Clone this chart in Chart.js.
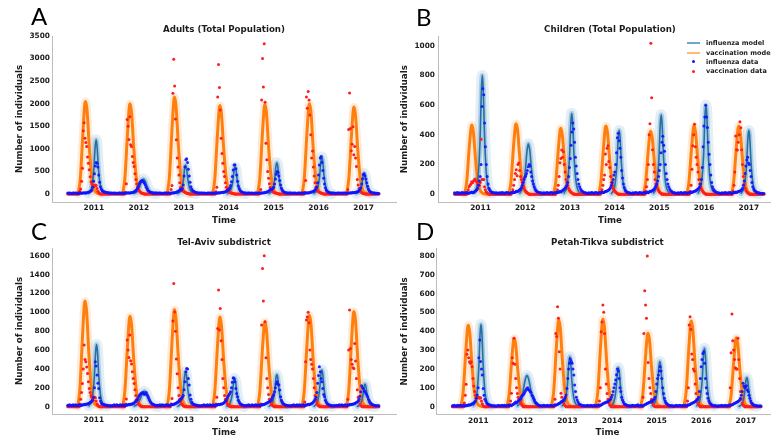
<!DOCTYPE html>
<html><head><meta charset="utf-8">
<script src="https://cdn.jsdelivr.net/npm/chart.js@4.4.1/dist/chart.umd.min.js"></script>
<style>
html,body{margin:0;padding:0;background:#fff}
body{width:771px;height:438px;overflow:hidden;position:relative}
canvas{position:absolute}
.letter{position:absolute;font-family:Lato,'Open Sans',sans-serif;font-size:24px;line-height:24px;color:#000}
.lg{position:absolute;font:bold 6.5px 'DejaVu Sans';color:#222;white-space:nowrap;line-height:8px}
.lgl{position:absolute;height:2px;width:13px}
.lgd{position:absolute;width:3px;height:3px;border-radius:50%}
</style></head><body>
<canvas id="cA" width="400" height="226" style="left:0;top:0"></canvas>
<canvas id="cB" width="400" height="226" style="left:385px;top:0"></canvas>
<canvas id="cC" width="400" height="218" style="left:0;top:220px"></canvas>
<canvas id="cD" width="400" height="218" style="left:385px;top:220px"></canvas>
<div class="letter" style="left:31px;top:4px">A</div>
<div class="letter" style="left:416px;top:5px">B</div>
<div class="letter" style="left:31px;top:219px">C</div>
<div class="letter" style="left:416px;top:219px">D</div>
<div class="lgl" style="left:687px;top:42.3px;background:rgba(31,119,180,0.65)"></div>
<div class="lg" style="left:706px;top:39.3px">influenza model</div>
<div class="lgl" style="left:687px;top:51.5px;background:rgba(255,127,14,0.55)"></div>
<div class="lg" style="left:706px;top:48.5px">vaccination model</div>
<div class="lgd" style="left:692px;top:60.3px;background:#1414ff"></div>
<div class="lg" style="left:706px;top:57.8px">influenza data</div>
<div class="lgd" style="left:692px;top:69.5px;background:#ff1e1e"></div>
<div class="lg" style="left:706px;top:67px">vaccination data</div>
<script>
// ---------- shared axis values ----------
const T0 = 2010.42;              // first weekly observation (decimal year)
const WEEK = 7 / 365.25;
const yearTicks = [2011, 2012, 2013, 2014, 2015, 2016, 2017];
const yTicksA = [0, 500, 1000, 1500, 2000, 2500, 3000, 3500];
const yTicksB = [0, 200, 400, 600, 800, 1000];
const yTicksC = [0, 200, 400, 600, 800, 1000, 1200, 1400, 1600];
const yTicksD = [0, 100, 200, 300, 400, 500, 600, 700, 800];
const titles = ['Adults (Total Population)', 'Children (Total Population)', 'Tel-Aviv subdistrict', 'Petah-Tikva subdistrict'];

// ---------- Panel A : model curves [year, value] per season ----------
const vacModelA = [
 [[2010.65,0],[2010.70,350],[2010.76,1400],[2010.80,2000],[2010.82,2050],[2010.85,1850],[2010.90,1020],[2010.95,410],[2011.00,120],[2011.06,30],[2011.15,0]],
 [[2011.64,0],[2011.69,340],[2011.75,1360],[2011.79,1940],[2011.81,2000],[2011.84,1800],[2011.89,1000],[2011.94,400],[2011.99,120],[2012.05,30],[2012.14,0]],
 [[2012.63,0],[2012.68,370],[2012.74,1460],[2012.78,2080],[2012.80,2150],[2012.83,1930],[2012.88,1080],[2012.93,430],[2012.98,130],[2013.04,30],[2013.13,0]],
 [[2013.64,0],[2013.69,330],[2013.75,1330],[2013.79,1900],[2013.81,1960],[2013.84,1760],[2013.89,980],[2013.94,390],[2013.99,120],[2014.05,30],[2014.14,0]],
 [[2014.64,0],[2014.69,340],[2014.75,1350],[2014.79,1920],[2014.81,1980],[2014.84,1780],[2014.89,990],[2014.94,400],[2014.99,120],[2015.05,30],[2015.14,0]],
 [[2015.63,0],[2015.68,340],[2015.74,1360],[2015.78,1940],[2015.80,2000],[2015.83,1800],[2015.88,1000],[2015.93,400],[2015.98,120],[2016.04,30],[2016.13,0]],
 [[2016.62,0],[2016.67,330],[2016.73,1310],[2016.77,1870],[2016.79,1930],[2016.82,1740],[2016.87,970],[2016.92,390],[2016.97,115],[2017.03,30],[2017.12,0]]
];
const fluModelA = [
 [[2010.88,20],[2010.95,140],[2011.00,540],[2011.03,1050],[2011.05,1200],[2011.07,1080],[2011.10,600],[2011.14,220],[2011.19,60],[2011.27,15]],
 [[2011.90,20],[2011.97,60],[2012.02,160],[2012.06,280],[2012.10,330],[2012.14,290],[2012.18,180],[2012.23,70],[2012.30,20],[2012.38,5]],
 [[2012.87,15],[2012.94,80],[2012.99,290],[2013.02,560],[2013.04,640],[2013.06,580],[2013.09,330],[2013.13,120],[2013.18,35],[2013.26,10]],
 [[2013.97,15],[2014.04,75],[2014.09,270],[2014.12,530],[2014.14,600],[2014.16,540],[2014.19,300],[2014.23,110],[2014.28,30],[2014.36,8]],
 [[2014.90,15],[2014.97,85],[2015.02,310],[2015.05,610],[2015.07,690],[2015.09,620],[2015.12,350],[2015.16,125],[2015.21,35],[2015.29,8]],
 [[2015.90,15],[2015.97,100],[2016.02,370],[2016.05,720],[2016.07,820],[2016.09,740],[2016.12,410],[2016.16,150],[2016.21,40],[2016.29,10]],
 [[2016.84,15],[2016.91,55],[2016.96,210],[2016.99,400],[2017.01,460],[2017.03,410],[2017.06,230],[2017.10,85],[2017.15,25],[2017.23,5]]
];
// ---------- Panel A : weekly data, one row per season (June -> June) ----------
const fluDataA = [
 [20,15,25,20,10,15,20,25,15,20,20,15,10,20,25,20,15,20,25,30,25,20,30,35,40,45,55,70,90,150,280,450,620,700,680,600,420,260,160,110,80,60,50,45,40,35,30,30,25,25,20,20],
 [15,20,25,15,20,10,15,20,25,20,15,20,15,25,20,15,20,25,30,20,25,30,30,35,40,50,60,80,100,130,170,220,260,280,300,290,270,240,200,150,110,80,60,50,40,35,30,25,25,20,20,20],
 [20,15,20,25,15,20,10,15,20,25,20,15,20,25,20,15,20,25,30,25,30,35,40,50,60,70,90,110,90,120,200,400,600,760,780,700,550,400,260,160,110,80,60,50,40,35,30,25,25,20,20,20],
 [20,25,15,20,15,10,20,25,20,15,20,25,15,20,25,20,15,20,25,30,25,30,35,35,40,40,45,50,60,70,90,110,140,190,270,390,530,640,650,560,420,280,180,120,80,60,45,35,30,25,20,20],
 [15,20,25,20,15,20,25,15,10,20,25,20,15,20,25,20,15,25,30,25,30,35,40,45,50,60,80,100,110,100,120,150,220,330,440,500,480,400,300,200,130,90,60,45,35,30,25,25,20,20,20,20],
 [20,15,20,25,20,15,10,20,25,20,15,20,25,20,15,20,25,20,30,25,30,35,40,45,50,60,70,90,120,160,250,420,640,800,830,700,520,350,220,140,90,60,45,35,30,25,25,20,20,20,15,15],
 [15,20,25,20,15,20,25,15,20,25,20,15,20,25,20,25,30,25,30,35,30,35,40,45,50,60,80,100,140,220,340,430,450,400,330,250,170,110,70,50,40,30,25,20,20,15,15,15,10,10]
];
const vacDataA = [
 [0,0,0,0,0,0,0,0,0,0,0,0,0,0,60,110,280,570,1400,1580,1235,1140,1050,820,680,540,380,270,220,190,190,170,200,190,120,60,30,10,0,0,0,0,0,0,0,0,0,0,0,0,0,0],
 [0,0,0,0,0,0,0,0,0,0,0,0,0,0,0,40,230,1650,1500,1210,1710,1090,1050,830,700,610,450,320,220,150,100,70,50,30,20,10,5,0,0,0,0,0,0,0,0,0,0,0,0,0,0,0],
 [0,0,0,0,0,0,0,0,0,0,0,0,0,0,0,0,100,190,2230,2985,2390,1660,1200,800,600,420,250,150,100,80,60,50,40,30,20,15,10,5,0,0,0,0,0,0,0,0,0,0,0,0,0,0],
 [0,0,0,0,0,0,0,0,0,0,0,0,0,0,0,0,50,150,2150,2870,2360,1860,1235,900,680,500,390,250,150,100,70,50,40,30,20,15,10,5,0,0,0,0,0,0,0,0,0,0,0,0,0,0],
 [0,0,0,0,0,0,0,0,0,0,0,0,0,0,0,30,100,2080,3000,2370,3330,2030,1125,760,500,350,230,150,100,70,50,40,30,20,15,10,5,0,0,0,0,0,0,0,0,0,0,0,0,0,0,0],
 [0,0,0,0,0,0,0,0,0,0,0,0,0,0,0,40,300,2150,1900,2270,2080,1750,1310,800,950,600,400,250,150,100,70,50,40,30,20,10,5,0,0,0,0,0,0,0,0,0,0,0,0,0,0,0],
 [0,0,0,0,0,0,0,0,0,0,0,0,0,100,1430,2240,1450,960,1100,1490,870,1050,800,610,320,200,120,80,50,30,20,10,5,0,0,0,0,0,0,0,0,0,0,0,0,0,0,0,0,0]
];

// ---------- Panel B ----------
const vacModelB = [
 [[2010.64,0],[2010.69,80],[2010.75,320],[2010.79,450],[2010.81,466],[2010.84,420],[2010.89,235],[2010.94,95],[2010.99,28],[2011.05,7],[2011.14,0]],
 [[2011.63,0],[2011.68,80],[2011.74,325],[2011.78,460],[2011.80,475],[2011.83,430],[2011.88,240],[2011.93,95],[2011.98,28],[2012.04,7],[2012.13,0]],
 [[2012.63,0],[2012.68,75],[2012.74,300],[2012.78,430],[2012.80,444],[2012.83,400],[2012.88,222],[2012.93,89],[2012.98,27],[2013.04,7],[2013.13,0]],
 [[2013.64,0],[2013.69,78],[2013.75,313],[2013.79,446],[2013.81,460],[2013.84,414],[2013.89,230],[2013.94,92],[2013.99,28],[2014.05,7],[2014.14,0]],
 [[2014.64,0],[2014.69,72],[2014.75,290],[2014.79,412],[2014.81,425],[2014.84,382],[2014.89,212],[2014.94,85],[2014.99,26],[2015.05,6],[2015.14,0]],
 [[2015.61,0],[2015.66,78],[2015.72,313],[2015.76,446],[2015.78,460],[2015.81,414],[2015.86,230],[2015.91,92],[2015.96,28],[2016.02,7],[2016.11,0]],
 [[2016.61,0],[2016.66,78],[2016.72,313],[2016.76,446],[2016.78,460],[2016.81,414],[2016.86,230],[2016.91,92],[2016.96,28],[2017.02,7],[2017.11,0]]
];
const fluModelB = [
 [[2010.87,12],[2010.94,95],[2010.99,360],[2011.02,700],[2011.04,800],[2011.06,720],[2011.09,400],[2011.13,145],[2011.18,40],[2011.26,8]],
 [[2011.88,8],[2011.95,50],[2012.00,150],[2012.04,290],[2012.07,340],[2012.10,300],[2012.14,170],[2012.19,60],[2012.25,15],[2012.33,4]],
 [[2012.87,8],[2012.94,65],[2012.99,245],[2013.02,480],[2013.04,545],[2013.06,490],[2013.09,270],[2013.13,100],[2013.18,27],[2013.26,5]],
 [[2013.93,6],[2014.00,52],[2014.05,195],[2014.08,380],[2014.10,430],[2014.12,387],[2014.15,215],[2014.19,77],[2014.24,21],[2014.32,4]],
 [[2014.87,8],[2014.94,64],[2014.99,240],[2015.02,470],[2015.04,535],[2015.06,480],[2015.09,268],[2015.13,96],[2015.18,27],[2015.26,5]],
 [[2015.87,9],[2015.94,72],[2015.99,270],[2016.02,528],[2016.04,600],[2016.06,540],[2016.09,300],[2016.13,108],[2016.18,30],[2016.26,6]],
 [[2016.83,6],[2016.90,52],[2016.95,195],[2016.98,380],[2017.00,430],[2017.02,387],[2017.05,215],[2017.09,77],[2017.14,21],[2017.22,4]]
];
const fluDataB = [
 [10,5,8,12,5,10,8,5,10,12,8,5,10,8,12,10,5,8,10,12,15,10,12,15,20,25,30,40,60,90,120,200,590,710,670,480,320,200,120,70,40,30,20,15,12,10,10,8,8,10,5,8],
 [8,10,5,12,8,10,5,8,10,12,8,10,5,8,10,12,15,10,12,15,20,18,20,25,30,35,45,60,80,100,115,125,140,160,185,200,190,150,120,90,70,50,35,25,20,15,12,10,10,8,8,5],
 [10,8,5,10,12,8,5,10,8,12,10,5,8,10,12,10,15,12,15,20,15,20,25,30,35,40,50,60,80,120,180,240,330,420,480,440,350,250,190,140,100,70,50,35,25,20,15,12,10,8,8,5],
 [8,10,5,8,12,10,5,8,10,12,8,5,10,8,12,10,15,10,12,15,18,20,22,25,30,35,45,60,80,100,130,150,200,280,380,410,360,310,250,160,110,70,45,30,20,15,12,10,8,8,5,5],
 [10,5,8,12,10,8,5,10,12,8,10,5,8,12,10,8,12,15,10,15,18,20,22,25,30,35,45,55,70,90,120,160,200,280,350,390,330,290,200,140,100,70,50,35,25,20,15,12,10,8,8,5],
 [8,10,5,8,12,10,5,8,10,12,8,5,10,8,12,10,15,12,15,18,20,22,25,30,35,40,50,70,100,180,320,460,520,600,520,450,350,270,200,130,80,50,35,25,20,15,12,10,8,8,5,5],
 [10,8,5,10,12,8,5,10,8,12,10,5,8,10,12,10,15,12,15,18,20,22,25,30,40,60,90,140,190,230,250,210,200,160,120,80,50,35,25,20,15,12,10,8,8,5,5,5,5,5]
];
const vacDataB = [
 [0,0,0,0,0,0,0,0,0,0,0,0,0,0,0,10,30,50,60,70,85,78,90,96,103,90,85,70,65,60,80,370,100,100,100,50,30,15,10,5,0,0,0,0,0,0,0,0,0,0,0,0],
 [0,0,0,0,0,0,0,0,0,0,0,0,0,0,0,10,30,60,100,140,165,125,200,210,160,120,100,80,60,45,30,20,15,10,5,0,0,0,0,0,0,0,0,0,0,0,0,0,0,0,0,0],
 [0,0,0,0,0,0,0,0,0,0,0,0,0,0,0,10,30,60,120,213,240,298,250,287,200,150,100,80,60,40,30,20,15,10,5,0,0,0,0,0,0,0,0,0,0,0,0,0,0,0,0,0],
 [0,0,0,0,0,0,0,0,0,0,0,0,0,0,0,10,30,60,100,130,271,200,309,327,220,180,120,80,60,40,30,20,15,10,5,0,0,0,0,0,0,0,0,0,0,0,0,0,0,0,0,0],
 [0,0,0,0,0,0,0,0,0,0,0,0,0,0,0,20,50,100,200,400,474,1016,650,300,200,150,100,70,50,35,25,15,10,5,0,0,0,0,0,0,0,0,0,0,0,0,0,0,0,0,0,0],
 [0,0,0,0,0,0,0,0,0,0,0,0,0,0,0,20,60,168,327,400,471,320,250,200,150,100,70,50,35,25,15,10,5,0,0,0,0,0,0,0,0,0,0,0,0,0,0,0,0,0,0,0],
 [0,0,0,0,0,0,0,0,0,0,0,0,0,20,60,150,392,300,298,350,400,489,448,300,200,120,70,40,25,15,10,5,0,0,0,0,0,0,0,0,0,0,0,0,0,0,0,0,0,0]
];

// ---------- Panel C ----------
const vacModelC = [
 [[2010.64,0],[2010.69,190],[2010.75,760],[2010.79,1085],[2010.81,1120],[2010.84,1010],[2010.89,560],[2010.94,225],[2010.99,67],[2011.05,17],[2011.14,0]],
 [[2011.64,0],[2011.69,165],[2011.75,650],[2011.79,930],[2011.81,960],[2011.84,865],[2011.89,480],[2011.94,190],[2011.99,58],[2012.05,15],[2012.14,0]],
 [[2012.63,0],[2012.68,175],[2012.74,700],[2012.78,1000],[2012.80,1030],[2012.83,925],[2012.88,515],[2012.93,205],[2012.98,62],[2013.04,15],[2013.13,0]],
 [[2013.64,0],[2013.69,160],[2013.75,645],[2013.79,920],[2013.81,950],[2013.84,855],[2013.89,475],[2013.94,190],[2013.99,57],[2014.05,14],[2014.14,0]],
 [[2014.64,0],[2014.69,153],[2014.75,612],[2014.79,873],[2014.81,900],[2014.84,810],[2014.89,450],[2014.94,180],[2014.99,54],[2015.05,13],[2015.14,0]],
 [[2015.63,0],[2015.68,165],[2015.74,660],[2015.78,940],[2015.80,970],[2015.83,873],[2015.88,485],[2015.93,194],[2015.98,58],[2016.04,15],[2016.13,0]],
 [[2016.62,0],[2016.67,172],[2016.73,687],[2016.77,980],[2016.79,1010],[2016.82,909],[2016.87,505],[2016.92,202],[2016.97,60],[2017.03,15],[2017.12,0]]
];
const fluModelC = [
 [[2010.89,10],[2010.96,80],[2011.01,300],[2011.04,580],[2011.06,660],[2011.08,595],[2011.11,330],[2011.15,120],[2011.20,33],[2011.28,7]],
 [[2011.90,8],[2011.97,30],[2012.03,80],[2012.08,140],[2012.12,165],[2012.16,145],[2012.21,90],[2012.27,35],[2012.34,10],[2012.42,3]],
 [[2012.87,6],[2012.94,44],[2012.99,167],[2013.02,325],[2013.04,370],[2013.06,333],[2013.09,185],[2013.13,67],[2013.18,18],[2013.26,4]],
 [[2013.96,5],[2014.03,36],[2014.08,135],[2014.11,264],[2014.13,300],[2014.15,270],[2014.18,150],[2014.22,54],[2014.27,15],[2014.35,3]],
 [[2014.90,5],[2014.97,41],[2015.02,153],[2015.05,300],[2015.07,340],[2015.09,306],[2015.12,170],[2015.16,61],[2015.21,17],[2015.29,3]],
 [[2015.90,6],[2015.97,47],[2016.02,175],[2016.05,343],[2016.07,390],[2016.09,351],[2016.12,195],[2016.16,70],[2016.21,20],[2016.29,4]],
 [[2016.86,4],[2016.93,29],[2016.98,108],[2017.01,211],[2017.03,240],[2017.05,216],[2017.08,120],[2017.12,43],[2017.17,12],[2017.25,2]]
];
const fluDataC = [
 [15,10,20,15,10,15,20,10,15,20,15,10,15,20,15,10,20,15,20,25,20,25,30,30,35,40,45,50,60,70,100,200,477,431,335,250,194,95,60,40,30,25,20,20,15,15,15,10,10,10,10,10],
 [10,15,20,10,15,20,15,10,15,20,15,10,20,15,10,15,20,15,20,25,20,25,30,30,35,40,50,60,70,80,100,120,130,140,145,150,140,130,140,150,130,110,90,70,50,40,30,25,20,15,15,10],
 [15,10,15,20,10,15,20,15,10,15,20,15,20,15,10,15,20,25,20,25,30,35,40,45,50,60,70,80,90,100,120,180,265,370,406,400,300,230,124,80,50,35,25,20,20,15,15,10,10,10,10,10],
 [10,15,20,15,10,15,20,10,15,20,15,10,15,20,15,10,20,15,20,25,20,25,30,30,35,40,50,60,70,90,110,125,140,160,200,260,307,300,265,194,140,106,70,50,35,25,20,15,15,10,10,10],
 [15,10,20,15,10,15,20,15,10,15,20,15,10,20,15,10,20,15,25,20,25,30,35,40,45,50,55,60,70,90,110,130,160,200,240,265,240,230,177,106,70,50,35,25,20,15,15,10,10,10,10,10],
 [10,15,20,15,10,15,20,10,15,20,15,10,15,20,15,10,20,15,20,25,20,25,30,35,40,50,60,80,100,150,250,330,424,371,300,265,194,130,106,70,50,35,25,20,15,15,10,10,10,10,10,10],
 [15,10,15,20,10,15,20,15,10,15,20,15,10,20,15,20,25,20,25,30,30,35,40,45,50,60,80,110,159,222,200,194,170,159,140,124,106,80,60,45,35,25,20,15,15,10,10,10,10,10]
];
const vacDataC = [
 [0,0,0,0,0,0,0,0,0,0,0,0,0,0,30,80,150,247,400,653,501,477,420,353,265,194,150,120,100,90,100,100,95,60,30,15,5,0,0,0,0,0,0,0,0,0,0,0,0,0,0,0],
 [0,0,0,0,0,0,0,0,0,0,0,0,0,0,0,30,81,706,600,523,760,487,452,370,300,247,180,120,80,50,30,20,10,5,0,0,0,0,0,0,0,0,0,0,0,0,0,0,0,0,0,0],
 [0,0,0,0,0,0,0,0,0,0,0,0,0,0,0,0,30,88,908,1307,1003,800,505,350,201,120,80,50,30,20,10,5,0,0,0,0,0,0,0,0,0,0,0,0,0,0,0,0,0,0,0,0],
 [0,0,0,0,0,0,0,0,0,0,0,0,0,0,0,0,30,100,830,1236,812,1042,700,500,300,200,120,80,50,30,20,10,5,0,0,0,0,0,0,0,0,0,0,0,0,0,0,0,0,0,0,0],
 [0,0,0,0,0,0,0,0,0,0,0,0,0,0,0,0,30,865,1466,1120,1600,900,519,300,200,130,80,50,30,20,10,5,0,0,0,0,0,0,0,0,0,0,0,0,0,0,0,0,0,0,0,0],
 [0,0,0,0,0,0,0,0,0,0,0,0,0,0,0,50,477,918,950,1000,890,600,500,450,400,300,200,120,70,40,20,10,5,0,0,0,0,0,0,0,0,0,0,0,0,0,0,0,0,0,0,0],
 [0,0,0,0,0,0,0,0,0,0,0,0,0,80,600,1024,618,500,450,413,406,671,484,300,180,100,60,30,15,5,0,0,0,0,0,0,0,0,0,0,0,0,0,0,0,0,0,0,0,0]
];

// ---------- Panel D ----------
const vacModelD = [
 [[2010.61,0],[2010.66,74],[2010.72,294],[2010.76,420],[2010.78,433],[2010.81,390],[2010.86,217],[2010.91,87],[2010.96,26],[2011.02,6],[2011.11,0]],
 [[2011.64,0],[2011.69,62],[2011.75,247],[2011.79,352],[2011.81,363],[2011.84,327],[2011.89,182],[2011.94,73],[2011.99,22],[2012.05,5],[2012.14,0]],
 [[2012.64,0],[2012.69,78],[2012.75,313],[2012.79,446],[2012.81,460],[2012.84,414],[2012.89,230],[2012.94,92],[2012.99,28],[2013.05,7],[2013.14,0]],
 [[2013.63,0],[2013.68,79],[2013.74,316],[2013.78,451],[2013.80,465],[2013.83,419],[2013.88,233],[2013.93,93],[2013.98,28],[2014.04,7],[2014.13,0]],
 [[2014.64,0],[2014.69,66],[2014.75,265],[2014.79,378],[2014.81,390],[2014.84,351],[2014.89,195],[2014.94,78],[2014.99,23],[2015.05,6],[2015.14,0]],
 [[2015.61,0],[2015.66,77],[2015.72,309],[2015.76,441],[2015.78,455],[2015.81,410],[2015.86,228],[2015.91,91],[2015.96,27],[2016.02,7],[2016.11,0]],
 [[2016.62,0],[2016.67,62],[2016.73,249],[2016.77,355],[2016.79,366],[2016.82,329],[2016.87,183],[2016.92,73],[2016.97,22],[2017.03,5],[2017.12,0]]
];
const fluModelD = [
 [[2010.89,7],[2010.96,52],[2011.01,197],[2011.04,385],[2011.06,437],[2011.08,393],[2011.11,219],[2011.15,79],[2011.20,22],[2011.28,4]],
 [[2011.88,5],[2011.95,25],[2012.00,75],[2012.05,140],[2012.09,165],[2012.13,145],[2012.18,85],[2012.24,30],[2012.31,8],[2012.39,2]],
 [[2012.88,4],[2012.95,32],[2013.00,119],[2013.03,233],[2013.05,265],[2013.07,239],[2013.10,133],[2013.14,48],[2013.19,13],[2013.27,3]],
 [[2013.97,3],[2014.04,25],[2014.09,93],[2014.12,182],[2014.14,207],[2014.16,186],[2014.19,104],[2014.23,37],[2014.28,10],[2014.36,2]],
 [[2014.90,4],[2014.97,29],[2015.02,108],[2015.05,211],[2015.07,240],[2015.09,216],[2015.12,120],[2015.16,43],[2015.21,12],[2015.29,2]],
 [[2015.90,5],[2015.97,37],[2016.02,140],[2016.05,273],[2016.07,310],[2016.09,279],[2016.12,155],[2016.16,56],[2016.21,16],[2016.29,3]],
 [[2016.85,2],[2016.92,18],[2016.97,69],[2017.00,136],[2017.02,154],[2017.04,139],[2017.07,77],[2017.11,28],[2017.16,8],[2017.24,2]]
];
const fluDataD = [
 [5,3,8,5,2,5,8,3,5,8,5,3,5,8,5,3,8,5,8,10,8,10,12,15,18,20,25,30,45,62,100,260,354,240,200,168,97,60,40,30,20,15,12,10,8,8,5,5,5,5,3,3],
 [3,5,8,5,3,5,8,5,3,8,5,3,5,8,5,10,8,5,10,12,15,20,25,20,25,30,35,40,45,55,60,65,71,80,88,95,100,90,88,80,75,62,55,45,35,25,20,15,10,8,5,5],
 [5,3,5,8,5,3,5,8,5,3,5,8,5,3,5,8,10,8,10,12,15,18,20,25,28,30,35,40,50,62,97,150,200,230,253,240,230,200,168,115,80,50,35,25,15,12,10,8,5,5,5,5],
 [3,5,8,5,3,5,8,5,3,5,8,5,3,8,5,10,8,5,10,12,15,18,20,22,25,25,28,30,35,40,50,62,80,101,120,142,170,200,189,150,101,80,50,35,25,15,12,10,8,5,5,3],
 [5,3,5,8,5,3,5,8,5,10,5,3,5,8,5,3,8,10,12,15,18,20,22,25,25,30,28,35,40,50,80,120,150,168,190,212,189,150,100,70,45,30,20,15,10,8,5,5,5,5,3,3],
 [3,5,8,5,3,5,8,5,3,5,8,5,3,8,5,10,8,10,12,15,18,20,22,25,28,30,35,40,50,80,150,212,250,283,292,230,150,100,70,45,30,20,15,10,8,5,5,5,5,3,3,3],
 [5,3,5,8,5,3,5,8,5,3,5,8,5,10,8,10,12,15,18,20,22,25,28,30,35,45,60,80,124,110,101,105,111,90,80,60,45,30,20,15,10,8,5,5,5,3,3,3,3,3]
];
const vacDataD = [
 [0,0,0,0,0,0,0,0,0,0,0,0,0,0,20,60,119,278,301,260,239,230,239,212,150,110,80,60,50,48,48,50,45,48,30,15,5,0,0,0,0,0,0,0,0,0,0,0,0,0,0,0],
 [0,0,0,0,0,0,0,0,0,0,0,0,0,0,0,10,30,71,260,230,363,225,150,100,70,50,40,30,20,10,5,0,0,0,0,0,0,0,0,0,0,0,0,0,0,0,0,0,0,0,0,0],
 [0,0,0,0,0,0,0,0,0,0,0,0,0,0,0,0,39,389,372,531,469,292,200,71,50,30,20,10,5,0,0,0,0,0,0,0,0,0,0,0,0,0,0,0,0,0,0,0,0,0,0,0],
 [0,0,0,0,0,0,0,0,0,0,0,0,0,0,0,0,30,100,398,450,540,501,389,200,120,70,40,20,10,5,0,0,0,0,0,0,0,0,0,0,0,0,0,0,0,0,0,0,0,0,0,0],
 [0,0,0,0,0,0,0,0,0,0,0,0,0,0,0,50,389,616,540,469,800,234,150,100,70,40,20,10,5,0,0,0,0,0,0,0,0,0,0,0,0,0,0,0,0,0,0,0,0,0,0,0],
 [0,0,0,0,0,0,0,0,0,0,0,0,0,0,0,30,100,434,478,411,280,250,200,190,120,70,40,20,10,5,0,0,0,0,0,0,0,0,0,0,0,0,0,0,0,0,0,0,0,0,0,0],
 [0,0,0,0,0,0,0,0,0,0,0,0,0,100,287,492,350,301,250,207,200,200,363,250,150,80,40,20,10,5,0,0,0,0,0,0,0,0,0,0,0,0,0,0,0,0,0,0,0,0]
];

// ---------- helpers ----------
function modelPoints(seasons) {
  const out = [];
  seasons.forEach((s, i) => {
    if (i) out.push({x: (out[out.length - 1].x + s[0][0]) / 2, y: null});
    s.forEach(p => out.push({x: p[0], y: p[1]}));
  });
  return out;
}
function weeklyPoints(rows) {
  const out = [];
  rows.forEach((r, s) => r.forEach((v, w) => out.push({x: T0 + (52 * s + w) * WEEK, y: v})));
  return out;
}
const TXT = '#1c1c1c';
const tickFont = {family: 'DejaVu Sans', size: 7.4, weight: 'bold'};
const titleFont = {family: 'DejaVu Sans', size: 8.7, weight: 'bold'};
const line = (data, color, width) => ({data, borderColor: color, borderWidth: width, pointRadius: 0,
  cubicInterpolationMode: 'monotone', borderJoinStyle: 'round', borderCapStyle: 'round', spanGaps: false, fill: false});
const dots = (data, color) => ({data, showLine: false, pointRadius: 1.5, pointBorderWidth: 0,
  pointBackgroundColor: color, backgroundColor: color, borderColor: color});

function panel(id, title, fluM, vacM, fluD, vacD, yMin, yMax, yTicks, g) {
  const fm = modelPoints(fluM), vm = modelPoints(vacM);
  new Chart(document.getElementById(id), {
    type: 'line',
    data: {datasets: [
      dots(weeklyPoints(fluD), 'rgba(20,20,255,0.92)'),
      dots(weeklyPoints(vacD), '#ff1e1e'),
      line(fm, '#236fa6', 1.6),
      line(vm, '#ff7f0e', 3),
      line(vm, 'rgba(255,127,14,0.16)', 8),
      line(fm, 'rgba(31,119,180,0.28)', 5),
      line(fm, 'rgba(31,119,180,0.12)', 11)
    ]},
    options: {
      responsive: false, animation: false, devicePixelRatio: 1, events: [],
      layout: {padding: {left: 0, right: g.padR, top: g.padT, bottom: 0}},
      plugins: {
        legend: {display: false}, tooltip: {enabled: false},
        title: {display: true, fullSize: false, text: title, font: titleFont, color: TXT, padding: {top: 0, bottom: g.titlePB}}
      },
      scales: {
        x: {
          type: 'linear', min: 2010.07, max: 2017.72,
          grid: {display: false, drawTicks: false, tickLength: 0},
          border: {display: true, color: '#bcbcbc', width: 1},
          ticks: {font: tickFont, color: TXT, padding: 2, maxRotation: 0, autoSkip: false, callback: v => String(v)},
          afterBuildTicks: a => { a.ticks = yearTicks.map(v => ({value: v})); },
          afterFit: a => { a.height = g.xH; },
          title: {display: true, text: 'Time', font: titleFont, color: TXT, padding: {top: 0, bottom: 0}}
        },
        y: {
          min: yMin, max: yMax,
          grid: {display: false, drawTicks: false, tickLength: 0},
          border: {display: true, color: '#bcbcbc', width: 1},
          ticks: {font: tickFont, color: TXT, padding: g.yPad, callback: v => String(v)},
          afterBuildTicks: a => { a.ticks = yTicks.map(v => ({value: v})); },
          afterFit: a => { a.width = g.yW; },
          title: {display: true, text: 'Number of individuals', font: titleFont, color: TXT, padding: {top: 14.8, bottom: 0}}
        }
      }
    }
  });
}

panel('cA', titles[0], fluModelA, vacModelA, fluDataA, vacDataA, -177, 3500, yTicksA,
  {padR: 4, padT: 24.8, titlePB: 0.76, xH: 24, yW: 52, yPad: 2});
panel('cB', titles[1], fluModelB, vacModelB, fluDataB, vacDataB, -52, 1062, yTicksB,
  {padR: 3, padT: 24.8, titlePB: 1.26, xH: 24, yW: 53.9, yPad: 3.9});
panel('cC', titles[2], fluModelC, vacModelC, fluDataC, vacDataC, -77, 1682, yTicksC,
  {padR: 4, padT: 17.1, titlePB: 0.46, xH: 24, yW: 52, yPad: 2});
panel('cD', titles[3], fluModelD, vacModelD, fluDataD, vacDataD, -40, 840, yTicksD,
  {padR: 7, padT: 17.1, titlePB: 0.96, xH: 23.8, yW: 51.8, yPad: 1.8});
</script>
</body></html>
